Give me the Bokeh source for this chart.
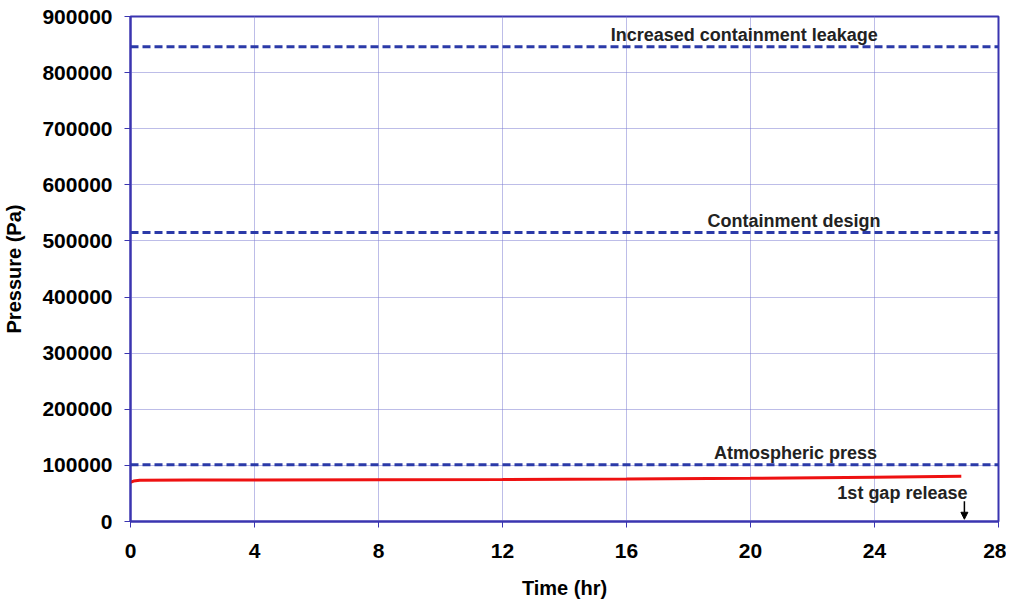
from bokeh.plotting import figure
from bokeh.models import Range1d, FixedTicker, Label, Arrow, NormalHead, Span
from bokeh.embed import file_html
from bokeh.resources import INLINE

time_hr = [0, 0.1, 0.3, 2, 4, 8, 12, 16, 20, 24, 26.8]
pressure_pa = [70000, 72000, 73500, 73800, 74000, 74300, 74800, 75800, 77000, 79000, 80500]

ref_names = ["Increased containment leakage", "Containment design", "Atmospheric press"]
ref_values = [846000, 515000, 101325]
ref_label_x = [19.8, 21.4, 21.45]

x_ticks = [0, 4, 8, 12, 16, 20, 24, 28]
y_ticks = [0, 100000, 200000, 300000, 400000, 500000, 600000, 700000, 800000, 900000]

gap_release_t = 26.9

p = figure(frame_width=868, frame_height=505, output_backend="svg", toolbar_location=None,
           x_range=Range1d(0, 28), y_range=Range1d(0, 900000),
           min_border_left=130, min_border_top=16, min_border_right=8, min_border_bottom=80)
p.background_fill_color = "white"
p.border_fill_color = "white"
p.outline_line_color = "#3a35b0"
p.outline_line_width = 2

for ax in (p.xaxis[0], p.yaxis[0]):
    ax.axis_line_color = "#3a35b0"
    ax.axis_line_width = 2
    ax.major_tick_line_color = "#3a35b0"
    ax.minor_tick_line_color = None
    ax.major_tick_out = 6
    ax.major_tick_in = 0
    ax.major_label_text_font = "Liberation Sans"
    ax.major_label_text_font_style = "bold"
    ax.major_label_text_font_size = "21px"
    ax.major_label_text_color = "black"
    ax.axis_label_text_font = "Liberation Sans"
    ax.axis_label_text_font_style = "bold"
    ax.axis_label_text_font_size = "20px"
    ax.axis_label_text_color = "black"

p.xaxis.ticker = FixedTicker(ticks=x_ticks)
p.yaxis.ticker = FixedTicker(ticks=y_ticks)
p.yaxis.formatter.use_scientific = False
p.xaxis.axis_label = "Time (hr)"
p.yaxis.axis_label = "Pressure (Pa)"
p.xaxis.major_label_standoff = 16
p.yaxis.major_label_standoff = 12
p.xaxis.axis_label_standoff = 16
p.yaxis.axis_label_standoff = 14

p.xgrid.ticker = FixedTicker(ticks=x_ticks)
p.ygrid.ticker = FixedTicker(ticks=y_ticks)
for g in (p.xgrid[0], p.ygrid[0]):
    g.grid_line_color = "#7a7ad0"
    g.grid_line_width = 1
    g.grid_line_dash = "1 1"

for name, val, lx in zip(ref_names, ref_values, ref_label_x):
    p.add_layout(Span(location=val, dimension="width", line_color="#2b3aa8",
                      line_width=3, line_dash="8 4"))
    p.add_layout(Label(x=lx, y=val, text=name, text_font="Liberation Sans",
                       text_font_style="bold", text_font_size="18px", text_color="#222222",
                       text_align="center", text_baseline="bottom", y_offset=2))

p.line(time_hr, pressure_pa, line_color="#ee1111", line_width=3)

p.add_layout(Label(x=24.9, y=0, text="1st gap release", text_font="Liberation Sans",
                   text_font_style="bold", text_font_size="18px", text_color="#222222",
                   text_align="center", text_baseline="bottom", y_offset=19))
p.add_layout(Arrow(end=NormalHead(size=7, fill_color="black", line_color="black"),
                   x_start=gap_release_t, y_start=36000, x_end=gap_release_t, y_end=4000,
                   line_color="black", line_width=1.5))

open("out.html", "w").write(file_html(p, INLINE))
